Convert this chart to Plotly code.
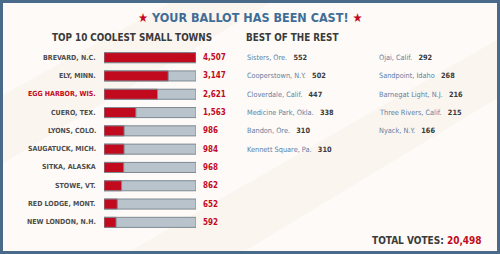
import plotly.graph_objects as go

towns = ["BREVARD, N.C.", "ELY, MINN.", "EGG HARBOR, WIS.", "CUERO, TEX.", "LYONS, COLO.",
         "SAUGATUCK, MICH.", "SITKA, ALASKA", "STOWE, VT.", "RED LODGE, MONT.", "NEW LONDON, N.H."]
votes = [4507, 3147, 2621, 1563, 986, 984, 968, 862, 652, 592]
highlight = "EGG HARBOR, WIS."

rest_col1 = ["Sisters, Ore.", "Cooperstown, N.Y.", "Cloverdale, Calif.", "Medicine Park, Okla.",
             "Bandon, Ore.", "Kennett Square, Pa."]
rest_col1_votes = [552, 502, 447, 338, 310, 310]
rest_col2 = ["Ojai, Calif.", "Sandpoint, Idaho", "Barnegat Light, N.J.", "Three Rivers, Calif.", "Nyack, N.Y."]
rest_col2_votes = [292, 268, 216, 215, 166]

total_votes = 20498

RED = "#c20a1e"
TRACK = "#b8c3cb"
BLUE = "#3f6d96"
ITEM_BLUE = "#5d80a4"
DARK = "#3a3a3a"
GRAY = "#4d4d4d"
FONT = "DejaVu Sans Condensed, sans-serif"

W, H = 500, 254
vmax = max(votes)
idx = list(range(len(towns)))

fig = go.Figure()
fig.add_trace(go.Bar(x=[vmax] * len(towns), y=idx, orientation="h", width=0.55,
                     marker=dict(color=TRACK, line=dict(color="#7f8a93", width=1)),
                     hoverinfo="skip", showlegend=False))
fig.add_trace(go.Bar(x=votes, y=idx, orientation="h", width=0.55,
                     marker=dict(color=RED, line=dict(color="#7f8a93", width=1)),
                     showlegend=False))

top_px, bot_px = 48.5, 231.5
fig.update_layout(
    width=W, height=H, margin=dict(l=0, r=0, t=0, b=0),
    paper_bgcolor="#fdfaf7", plot_bgcolor="rgba(0,0,0,0)",
    barmode="overlay",
    xaxis=dict(domain=[104 / W, 196 / W], range=[0, vmax], visible=False, fixedrange=True),
    yaxis=dict(domain=[1 - bot_px / H, 1 - top_px / H], range=[9.5, -0.5], visible=False, fixedrange=True),
    font=dict(family=FONT),
)

# faint diagonal background bands
bands = [((0, 0.62), (0.35, 1.0), (0.55, 1.0), (0.0, 0.35)),
         ((0.25, 0.0), (1.0, 0.85), (1.0, 0.62), (0.48, 0.0))]
for b in bands:
    path = "M %f,%f L %f,%f L %f,%f L %f,%f Z" % (b[0] + b[1] + b[2] + b[3])
    fig.add_shape(type="path", path=path, xref="paper", yref="paper",
                  fillcolor="rgba(245,225,215,0.2)", line=dict(width=0), layer="below")

# border
fig.add_shape(type="rect", xref="paper", yref="paper", x0=0.003, y0=0.006, x1=0.997, y1=0.994,
              line=dict(color="#4a6a8a", width=3), fillcolor="rgba(0,0,0,0)")

ann = []
ann.append(dict(x=0.5, y=1 - 18 / H, xref="paper", yref="paper", showarrow=False,
                text=f"<b><span style='color:{RED}'>★</span> YOUR BALLOT HAS BEEN CAST! <span style='color:{RED}'>★</span></b>",
                font=dict(size=12.5, color=BLUE, family=FONT), xanchor="center", yanchor="middle"))
ann.append(dict(x=50 / W, y=1 - 38 / H, xref="paper", yref="paper", showarrow=False,
                text="<b>TOP 10 COOLEST SMALL TOWNS</b>", font=dict(size=9.8, color=DARK),
                xanchor="left", yanchor="middle"))
ann.append(dict(x=244 / W, y=1 - 38 / H, xref="paper", yref="paper", showarrow=False,
                text="<b>BEST OF THE REST</b>", font=dict(size=9.8, color=DARK),
                xanchor="left", yanchor="middle"))

for i, (t, v) in enumerate(zip(towns, votes)):
    col = RED if t == highlight else GRAY
    ann.append(dict(x=98 / W, y=i, xref="paper", yref="y", showarrow=False,
                    text=f"<b>{t}</b>", font=dict(size=7, color=col), xanchor="right", yanchor="middle"))
    ann.append(dict(x=201 / W, y=i, xref="paper", yref="y", showarrow=False,
                    text=f"<b>{v:,}</b>", font=dict(size=8, color=RED), xanchor="left", yanchor="middle"))

for col_names, col_votes, x0 in [(rest_col1, rest_col1_votes, 245), (rest_col2, rest_col2_votes, 377)]:
    for i, (n, v) in enumerate(zip(col_names, col_votes)):
        ann.append(dict(x=x0 / W, y=i, xref="paper", yref="y", showarrow=False,
                        text=f"{n}&nbsp;&nbsp;&nbsp;<b><span style='color:{DARK}'>{v}</span></b>",
                        font=dict(size=7.3, color=ITEM_BLUE), xanchor="left", yanchor="middle"))

ann.append(dict(x=484 / W, y=1 - 240 / H, xref="paper", yref="paper", showarrow=False,
                text=f"<b>TOTAL VOTES: <span style='color:{RED}'>{total_votes:,}</span></b>",
                font=dict(size=10, color=DARK), xanchor="right", yanchor="middle"))

fig.update_layout(annotations=ann)
fig.write_html("out.html")
